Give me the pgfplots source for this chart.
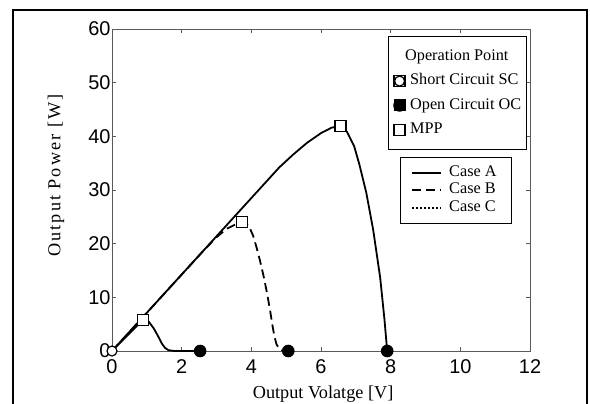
\documentclass[border=0pt]{standalone}
\usepackage{fontspec}
\setmainfont{Liberation Serif}
\newfontfamily\ticksans{Liberation Sans}
\newfontfamily\spacedserif[LetterSpace=11]{Liberation Serif}
\newcommand\tickfont{\ticksans\fontsize{20}{20}\selectfont}
\usepackage{pgfplots}
\pgfplotsset{compat=1.18}
\pgfplotsset{myaxis/.style={scale only axis, width=418bp, height=322bp,
  at={(112bp,52bp)}, anchor=south west, xmin=0, xmax=12, ymin=0, ymax=60}}
\begin{document}
\begin{tikzpicture}[x=1bp,y=1bp]
\useasboundingbox (0,0) rectangle (590,403);
\draw[line width=1.8bp] (13,-10) -- (13,393) -- (587,393) -- (587,-10);
\begin{axis}[myaxis,
  xtick={0,2,...,12}, ytick={0,10,...,60},
  tick align=inside, major tick length=4bp,
  axis line style={black!65, line width=0.9bp},
  every tick/.style={black!65, line width=0.8bp},
  /pgf/number format/assume math mode=true,
  xticklabel style={font=\tickfont, text=black, yshift=-5bp},
  yticklabel style={font=\tickfont, text=black, xshift=2bp},
  xlabel={Output Volatge [V]},
  ylabel={\spacedserif Output Power [W]},
  label style={font=\fontsize{18.3}{18.3}\selectfont},
  xlabel style={at={(axis description cs:0.505,-0.146)}, anchor=base},
  ylabel style={at={(axis description cs:-0.134,0.545)}, anchor=center},
  legend style={at={(0.957,0.6025)}, anchor=north east, draw=black, line width=0.9bp,
    inner xsep=11bp, inner ysep=8bp, row sep=3bp, column sep=7bp,
    font=\fontsize{16.3}{16.3}\selectfont,
    nodes={inner sep=0pt, text height=11bp, text depth=3.5bp}},
  legend cell align=left,
  legend image code/.code={\draw[#1] (0bp,0bp) -- (29bp,0bp);},
]
\addplot[black, line width=1.8bp] coordinates {
 (0,0) (4.8,34.2) (5.2,36.6) (5.6,38.8) (6.0,40.6) (6.3,41.6) (6.56,42)
 (6.75,40.8) (6.95,38.2) (7.1,34.8) (7.3,29.5) (7.5,22.5) (7.7,13.6)
 (7.82,6) (7.9,0)};
\addlegendentry{Case A\hspace*{4bp}}
\addplot[black, line width=1.8bp, dash pattern=on 9bp off 5bp] coordinates {
 (0,0) (2.6,18.5) (3.0,21.2) (3.3,22.8) (3.55,23.6) (3.74,24)
 (3.85,23.8) (3.95,23) (4.05,21.5) (4.15,19.3) (4.25,16.8) (4.35,14)
 (4.45,10.8) (4.54,7.5) (4.6,5) (4.66,2.8) (4.72,1.3) (4.8,0.4)
 (4.9,0.05) (5.06,0)};
\addlegendentry{Case B}
\addplot[black, line width=1.8bp, forget plot] coordinates {
 (0,0) (0.9,5.9) (1.05,5.5) (1.2,4.2) (1.32,2.8) (1.43,1.4) (1.52,0.6)
 (1.62,0.15) (1.8,0) (2.53,0)};
\addlegendimage{black, line width=1.8bp, dash pattern=on 2bp off 2bp}
\addlegendentry{Case C}
\end{axis}
\begin{axis}[myaxis, hide axis, clip=false,
  legend style={at={(0.993,0.978)}, anchor=north east, draw=black, line width=0.9bp,
    inner xsep=5.5bp, inner ysep=13bp, row sep=9.8bp, column sep=4.5bp,
    font=\fontsize{16.3}{16.3}\selectfont,
    nodes={inner sep=0pt, text height=11bp, text depth=3.5bp}},
  legend cell align=left,
  legend image code/.code={\path (0bp,-5.5bp) rectangle (11bp,5.5bp);
    \draw[#1] plot coordinates {(5.5bp,0bp)};},
]
\addlegendimage{empty legend}
\addlegendentry{\hspace*{-5bp}Operation Point}
\addplot[only marks, mark=*, mark size=5bp, draw=black, fill=white, line width=1.2bp]
  coordinates {(0,0)};
\addlegendentry{Short Circuit SC}
\addplot[only marks, mark=*, mark size=5.8bp, draw=black, fill=black, line width=1bp]
  coordinates {(2.53,0) (5.06,0) (7.9,0)};
\addlegendentry{Open Circuit OC}
\addplot[only marks, mark=square*, mark size=5.5bp, draw=black, fill=white, line width=1.2bp]
  coordinates {(0.9,5.8) (3.74,24) (6.56,42)};
\addlegendentry{MPP}
\end{axis}
\end{tikzpicture}
\end{document}
